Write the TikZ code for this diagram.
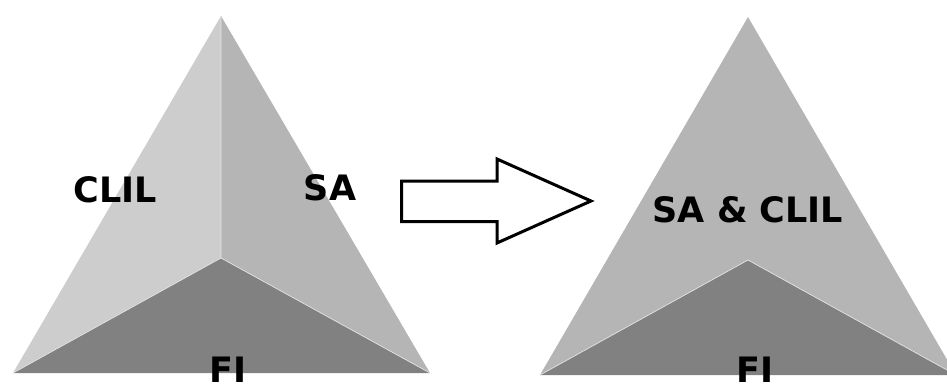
\documentclass[tikz,border=0pt]{standalone}
\usepackage{fontspec}
\setmainfont{DejaVu Sans}
\begin{document}
\begin{tikzpicture}[x=1pt,y=-1pt,
  facelight/.style={fill=gray!40!white!100, draw=white!85!gray, line width=0.6pt, line join=round},
  lbl/.style={inner sep=0pt, font=\fontsize{35}{35}\selectfont\bfseries, text=black}]
\definecolor{lightface}{HTML}{CDCDCD}
\definecolor{midface}{HTML}{B5B5B5}
\definecolor{darkface}{HTML}{818181}
\useasboundingbox (0,0) rectangle (947,385);
\begin{scope}
\clip (0,0) rectangle (947,385);
% left triangle
\coordinate (LA) at (221,16);
\coordinate (LL) at (13,373);
\coordinate (LR) at (430,373);
\coordinate (LC) at (221,258);
\fill[lightface] (LA) -- (LL) -- (LC) -- cycle;
\fill[midface] (LA) -- (LC) -- (LR) -- cycle;
\fill[darkface] (LL) -- (LC) -- (LR) -- cycle;
\draw[white!80!gray, line width=0.7pt] (LA) -- (LC) (LL) -- (LC) -- (LR);
% right triangle
\coordinate (RA) at (748,17);
\coordinate (RL) at (540,375);
\coordinate (RR) at (956,375);
\coordinate (RC) at (748,260);
\fill[midface] (RA) -- (RL) -- (RC) -- (RR) -- cycle;
\fill[darkface] (RL) -- (RC) -- (RR) -- cycle;
\draw[white!80!gray, line width=0.7pt] (RL) -- (RC) -- (RR);
% arrow
\draw[line width=3pt, line join=miter, fill=white]
  (401.5,181) -- (497,181) -- (497,159) -- (591,201) -- (497,243) -- (497,221.5) -- (401.5,221.5) -- cycle;
% labels
\node[lbl] (clil) at (115,190) {CLIL};
\node[lbl] (sa) at (330,188) {SA};
\node[lbl, anchor=north] (fil) at (228,357) {FI};
\node[lbl] (sacl) at (748,210) {SA \& CLIL};
\node[lbl, anchor=north] (fir) at (755,357) {FI};
\end{scope}
\end{tikzpicture}
\end{document}
